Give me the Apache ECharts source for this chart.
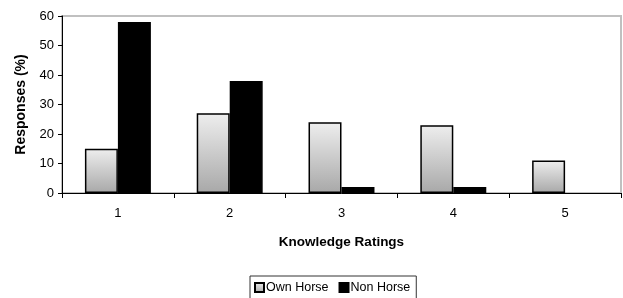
<!DOCTYPE html>
<html><head><meta charset="utf-8">
<script src="https://cdn.jsdelivr.net/npm/echarts@6/dist/echarts.min.js"></script>
<style>html,body{margin:0;padding:0;background:#fff}#c{width:623px;height:298px}</style>
</head><body><div id="c"></div>
<script>
const categories = ['1','2','3','4','5'];
const ownHorse = [15, 27, 24, 23, 11];
const nonHorse = [58, 38, 2, 2, 0];
const yTicks = {min: 0, max: 60, interval: 10};

const chart = echarts.init(document.getElementById('c'), null, {renderer: 'canvas'});
const font = 'Liberation Sans, Arial, sans-serif';
chart.setOption({
  animation: false,
  grid: {left: 62, right: 2, top: 16, bottom: 105, show: true, borderColor: '#c0c0c0', borderWidth: 2, backgroundColor: '#fff'},
  legend: {
    left: 250, top: 276, itemWidth: 9, itemHeight: 9, itemGap: 10,
    icon: 'rect', padding: [5, 6, 5, 4],
    borderColor: '#333', borderWidth: 1,
    textStyle: {fontFamily: font, fontSize: 12.5, color: '#000', padding: [0, 0, 0, -3]},
    data: ['Own Horse', 'Non Horse']
  },
  xAxis: {
    type: 'category', data: categories,
    name: 'Knowledge Ratings', nameLocation: 'middle', nameGap: 42,
    nameTextStyle: {fontFamily: font, fontSize: 13.5, fontWeight: 'bold', color: '#000'},
    axisLine: {lineStyle: {color: '#000', width: 1}},
    axisTick: {show: true, inside: false, length: 5, lineStyle: {color: '#000'}},
    axisLabel: {fontFamily: font, fontSize: 13, color: '#000', margin: 14}
  },
  yAxis: {
    type: 'value', min: yTicks.min, max: yTicks.max, interval: yTicks.interval,
    name: 'Responses (%)', nameLocation: 'middle', nameGap: 33,
    nameTextStyle: {fontFamily: font, fontSize: 14, fontWeight: 'bold', color: '#000'},
    axisLine: {show: true, lineStyle: {color: '#000', width: 1}},
    axisTick: {show: true, length: 4, lineStyle: {color: '#000'}},
    splitLine: {show: false},
    axisLabel: {fontFamily: font, fontSize: 13, color: '#000', margin: 8}
  },
  series: [
    {
      name: 'Own Horse', type: 'bar', data: ownHorse,
      barGap: '0%', barCategoryGap: '41%',
      itemStyle: {
        color: new echarts.graphic.LinearGradient(0, 0, 0, 1, [
          {offset: 0, color: '#eeeeee'}, {offset: 1, color: '#a8a8a8'}
        ]),
        borderColor: '#000', borderWidth: 1.5
      }
    },
    {
      name: 'Non Horse', type: 'bar',
      data: nonHorse.map(v => v === 0 ? {value: v, itemStyle: {borderWidth: 0}} : v),
      itemStyle: {color: '#000', borderColor: '#000', borderWidth: 1.5}
    }
  ]
});
</script></body></html>
